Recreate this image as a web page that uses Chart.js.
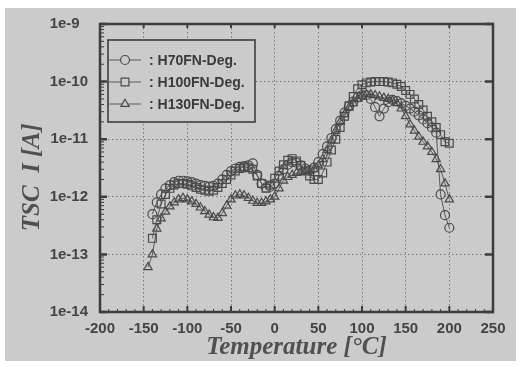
<!DOCTYPE html>
<html>
<head>
<meta charset="utf-8">
<script src="https://cdn.jsdelivr.net/npm/chart.js@4.4.0/dist/chart.umd.min.js"></script>
<style>
  html, body { margin: 0; padding: 0; background: #fff; }
  #photo { position: absolute; left: 5px; top: 8px; width: 511px; height: 353px; background: #cbcbcb; }
  #wrap { position: absolute; left: 0; top: 0; width: 524px; height: 367px; }
</style>
</head>
<body>
<div id="photo"></div>
<div id="wrap"><canvas id="tsc" width="524" height="367"></canvas></div>
<script>
// temperature steps [°C], shared by all three curves
const temps = [
  -145, -140, -135, -130, -125, -120, -115, -110, -105, -100,
  -95, -90, -85, -80, -75, -70, -65, -60, -55, -50,
  -45, -40, -35, -30, -25, -20, -15, -10, -5, 0,
  5, 10, 15, 20, 25, 30, 35, 40, 45, 50,
  55, 60, 65, 70, 75, 80, 85, 90, 95, 100,
  105, 110, 115, 120, 125, 130, 135, 140, 145, 150,
  155, 160, 165, 170, 175, 180, 185, 190, 195, 200
];

// TSC current [A] (null = no point)
const h70 = [
  null, 5e-13, 8e-13, 1.1e-12, 1.4e-12, 1.6e-12, 1.8e-12, 1.9e-12, 1.9e-12, 1.85e-12,
  1.8e-12, 1.7e-12, 1.6e-12, 1.55e-12, 1.5e-12, 1.55e-12, 1.7e-12, 2e-12, 2.4e-12, 2.8e-12,
  3.1e-12, 3.3e-12, 3.4e-12, 3.5e-12, 3.8e-12, 2.4e-12, 1.7e-12, 1.45e-12, 1.5e-12, 1.7e-12,
  2.3e-12, 3e-12, 3.6e-12, 4e-12, 3.9e-12, 3.5e-12, 3.1e-12, 2.9e-12, 3.2e-12, 4e-12,
  5.5e-12, 7.5e-12, 1.05e-11, 1.5e-11, 2.1e-11, 2.9e-11, 3.7e-11, 4.5e-11, 5.3e-11, 5.8e-11,
  5.8e-11, 5e-11, 3.6e-11, 2.5e-11, 3.4e-11, 4.4e-11, 4.8e-11, 4.6e-11, 4.2e-11, 3.8e-11,
  3.4e-11, 3e-11, 2.6e-11, 2.2e-11, 1.9e-11, 1.6e-11, 1.3e-11, 1.1e-12, 4.8e-13, 2.9e-13
];
const h100 = [
  null, 1.9e-13, 4e-13, 7.5e-13, 1.1e-12, 1.4e-12, 1.6e-12, 1.7e-12, 1.7e-12, 1.65e-12,
  1.55e-12, 1.45e-12, 1.35e-12, 1.3e-12, 1.25e-12, 1.3e-12, 1.45e-12, 1.7e-12, 2e-12, 2.4e-12,
  2.8e-12, 3.1e-12, 3.3e-12, 3.2e-12, 3e-12, 2.3e-12, 1.7e-12, 1.4e-12, 1.6e-12, 2.1e-12,
  2.8e-12, 3.6e-12, 4.3e-12, 4.6e-12, 4.2e-12, 3.5e-12, 2.8e-12, 2.3e-12, 2e-12, 2e-12,
  2.6e-12, 4e-12, 6.5e-12, 1e-11, 1.6e-11, 2.5e-11, 3.8e-11, 5.5e-11, 7.5e-11, 8.8e-11,
  9.5e-11, 9.8e-11, 1e-10, 1e-10, 1e-10, 9.8e-11, 9.5e-11, 9e-11, 8.2e-11, 7e-11,
  6e-11, 5e-11, 4e-11, 3.2e-11, 2.5e-11, 2e-11, 1.6e-11, 1.2e-11, 9e-12, 8.5e-12
];
const h130 = [
  6e-14, 1e-13, 2.8e-13, 4.2e-13, 5.5e-13, 6.8e-13, 8e-13, 9e-13, 9.5e-13, 9e-13,
  8.3e-13, 7.5e-13, 6.5e-13, 5.6e-13, 4.9e-13, 4.4e-13, 4.3e-13, 5.2e-13, 7e-13, 9e-13,
  1.05e-12, 1.1e-12, 1.05e-12, 9.5e-13, 8.5e-13, 7.8e-13, 7.8e-13, 8.3e-13, 9e-13, 1e-12,
  1.4e-12, 1.9e-12, 2.2e-12, 2.4e-12, 2.6e-12, 2.7e-12, 2.8e-12, 2.8e-12, 3e-12, 3.5e-12,
  4.5e-12, 6.5e-12, 9.5e-12, 1.4e-11, 2e-11, 2.7e-11, 3.5e-11, 4.2e-11, 5e-11, 5.6e-11,
  6e-11, 6e-11, 5.8e-11, 5.5e-11, 5.2e-11, 5e-11, 4.7e-11, 4.2e-11, 3.4e-11, 2.5e-11,
  1.8e-11, 1.4e-11, 1.1e-11, 9e-12, 7.5e-12, 6e-12, 4.5e-12, 3e-12, 1.7e-12, 9e-13
];

const seriesLabels = ['H70FN-Deg.', 'H100FN-Deg.', 'H130FN-Deg.'];
const xTicks = [-200, -150, -100, -50, 0, 50, 100, 150, 200, 250];
const yTicks = [1e-14, 1e-13, 1e-12, 1e-11, 1e-10, 1e-9];

const INK = '#4a4a4a';
const BG = '#cbcbcb';

function toPoints(vals) {
  return temps.map((t, i) => ({ x: t, y: vals[i] })).filter(p => p.y !== null);
}

function makeSet(label, vals, style, radius) {
  return {
    label: label,
    data: toPoints(vals),
    showLine: true,
    borderColor: '#5a5a5a',
    borderWidth: 1,
    pointStyle: style,
    pointRadius: radius,
    pointBorderColor: INK,
    pointBackgroundColor: 'transparent',
    pointBorderWidth: 1.2
  };
}

// frame with inward ticks, like the original plotting program
const frameTicks = {
  id: 'frameTicks',
  afterDatasetsDraw(chart) {
    const { ctx, chartArea: a, scales: { x, y } } = chart;
    ctx.save();
    ctx.strokeStyle = '#3c3c3c';
    // minor x ticks every 10
    ctx.lineWidth = 1;
    for (let v = -190; v < 250; v += 10) {
      if (v % 50 === 0) continue;
      const px = x.getPixelForValue(v);
      ctx.beginPath();
      ctx.moveTo(px, a.bottom); ctx.lineTo(px, a.bottom - 3);
      ctx.stroke();
    }
    // major x ticks
    ctx.lineWidth = 2;
    xTicks.forEach(v => {
      const px = x.getPixelForValue(v);
      ctx.beginPath();
      ctx.moveTo(px, a.bottom); ctx.lineTo(px, a.bottom - 6);
      ctx.moveTo(px, a.top); ctx.lineTo(px, a.top + 4);
      ctx.stroke();
    });
    // y minor ticks (log)
    ctx.lineWidth = 1;
    for (let i = 0; i < yTicks.length - 1; i++) {
      for (let k = 2; k <= 9; k++) {
        const py = y.getPixelForValue(yTicks[i] * k);
        ctx.beginPath();
        ctx.moveTo(a.left, py); ctx.lineTo(a.left + 4, py);
        ctx.stroke();
      }
    }
    // y major ticks both sides
    ctx.lineWidth = 2.5;
    yTicks.forEach(v => {
      const py = y.getPixelForValue(v);
      ctx.beginPath();
      ctx.moveTo(a.left, py); ctx.lineTo(a.left + 7, py);
      ctx.moveTo(a.right, py); ctx.lineTo(a.right - 8, py);
      ctx.stroke();
    });
    ctx.strokeRect(a.left, a.top, a.right - a.left, a.bottom - a.top);
    ctx.restore();
  }
};

// boxed legend in the upper left corner
const boxLegend = {
  id: 'boxLegend',
  afterDraw(chart) {
    const { ctx, chartArea: a } = chart;
    const bx = a.left + 8, by = a.top + 16, bw = 147, bh = 82;
    ctx.save();
    ctx.fillStyle = BG;
    ctx.fillRect(bx, by, bw, bh);
    ctx.strokeStyle = '#3c3c3c';
    ctx.lineWidth = 1.6;
    ctx.strokeRect(bx, by, bw, bh);
    ctx.font = 'bold 14px "Liberation Sans", Arial, sans-serif';
    ctx.textBaseline = 'middle';
    chart.data.datasets.forEach((ds, i) => {
      const ry = by + 20 + i * 22;
      ctx.strokeStyle = '#5a5a5a';
      ctx.lineWidth = 1;
      ctx.beginPath();
      ctx.moveTo(bx, ry); ctx.lineTo(bx + 33, ry);
      ctx.stroke();
      ctx.fillStyle = BG;
      ctx.strokeStyle = INK;
      ctx.lineWidth = 1.2;
      Chart.helpers.drawPoint(ctx, {
        pointStyle: ds.pointStyle, radius: ds.pointRadius, rotation: 0, borderWidth: 1.2
      }, bx + 17, ry);
      ctx.fillStyle = '#3a3a3a';
      ctx.fillText(': ' + ds.label, bx + 41, ry + 1);
    });
    ctx.restore();
  }
};

new Chart(document.getElementById('tsc'), {
  type: 'scatter',
  data: {
    datasets: [
      makeSet(seriesLabels[0], h70, 'circle', 4.5),
      makeSet(seriesLabels[1], h100, 'rect', 5.5),
      makeSet(seriesLabels[2], h130, 'triangle', 4.8)
    ]
  },
  options: {
    responsive: false,
    animation: false,
    layout: { padding: { left: 0, top: 24, right: 31, bottom: 0 } },
    plugins: {
      legend: { display: false },
      tooltip: { enabled: false }
    },
    scales: {
      x: {
        type: 'linear',
        min: -200,
        max: 250,
        afterBuildTicks: s => { s.ticks = xTicks.map(v => ({ value: v })); },
        afterFit: s => { s.height = 55; },
        grid: { color: '#7a7a7a', lineWidth: 1, drawTicks: false },
        border: { display: false, dash: [1.5, 2.5] },
        ticks: {
          padding: 8,
          color: '#444',
          font: { family: '"Liberation Sans", Arial, sans-serif', size: 15, weight: 'bold' }
        },
        title: {
          display: true,
          text: 'Temperature [°C]',
          color: '#505050',
          padding: { top: 0, bottom: 4 },
          font: { family: '"Liberation Serif", "Times New Roman", serif', size: 25, weight: 'bold', style: 'italic' }
        }
      },
      y: {
        type: 'logarithmic',
        min: 1e-14,
        max: 1e-9,
        afterBuildTicks: s => { s.ticks = yTicks.map(v => ({ value: v })); },
        afterFit: s => { s.width = 100; },
        grid: { color: '#7a7a7a', lineWidth: 1, drawTicks: false },
        border: { display: false, dash: [1.5, 2.5] },
        ticks: {
          padding: 12,
          color: '#444',
          font: { family: '"Liberation Sans", Arial, sans-serif', size: 15, weight: 'bold' },
          // labels sit flush left in the original, so the short one gets padded
          callback: v => {
            const e = Math.round(Math.log10(v));
            return '1e' + e + (e === -9 ? '\u2007' : '');
          }
        },
        title: {
          display: true,
          text: 'TSC  I [A]   ',
          color: '#505050',
          padding: { top: 18, bottom: 0 },
          font: { family: '"Liberation Serif", "Times New Roman", serif', size: 25, weight: 'bold', style: 'italic' }
        }
      }
    }
  },
  plugins: [frameTicks, boxLegend]
});
</script>
</body>
</html>
